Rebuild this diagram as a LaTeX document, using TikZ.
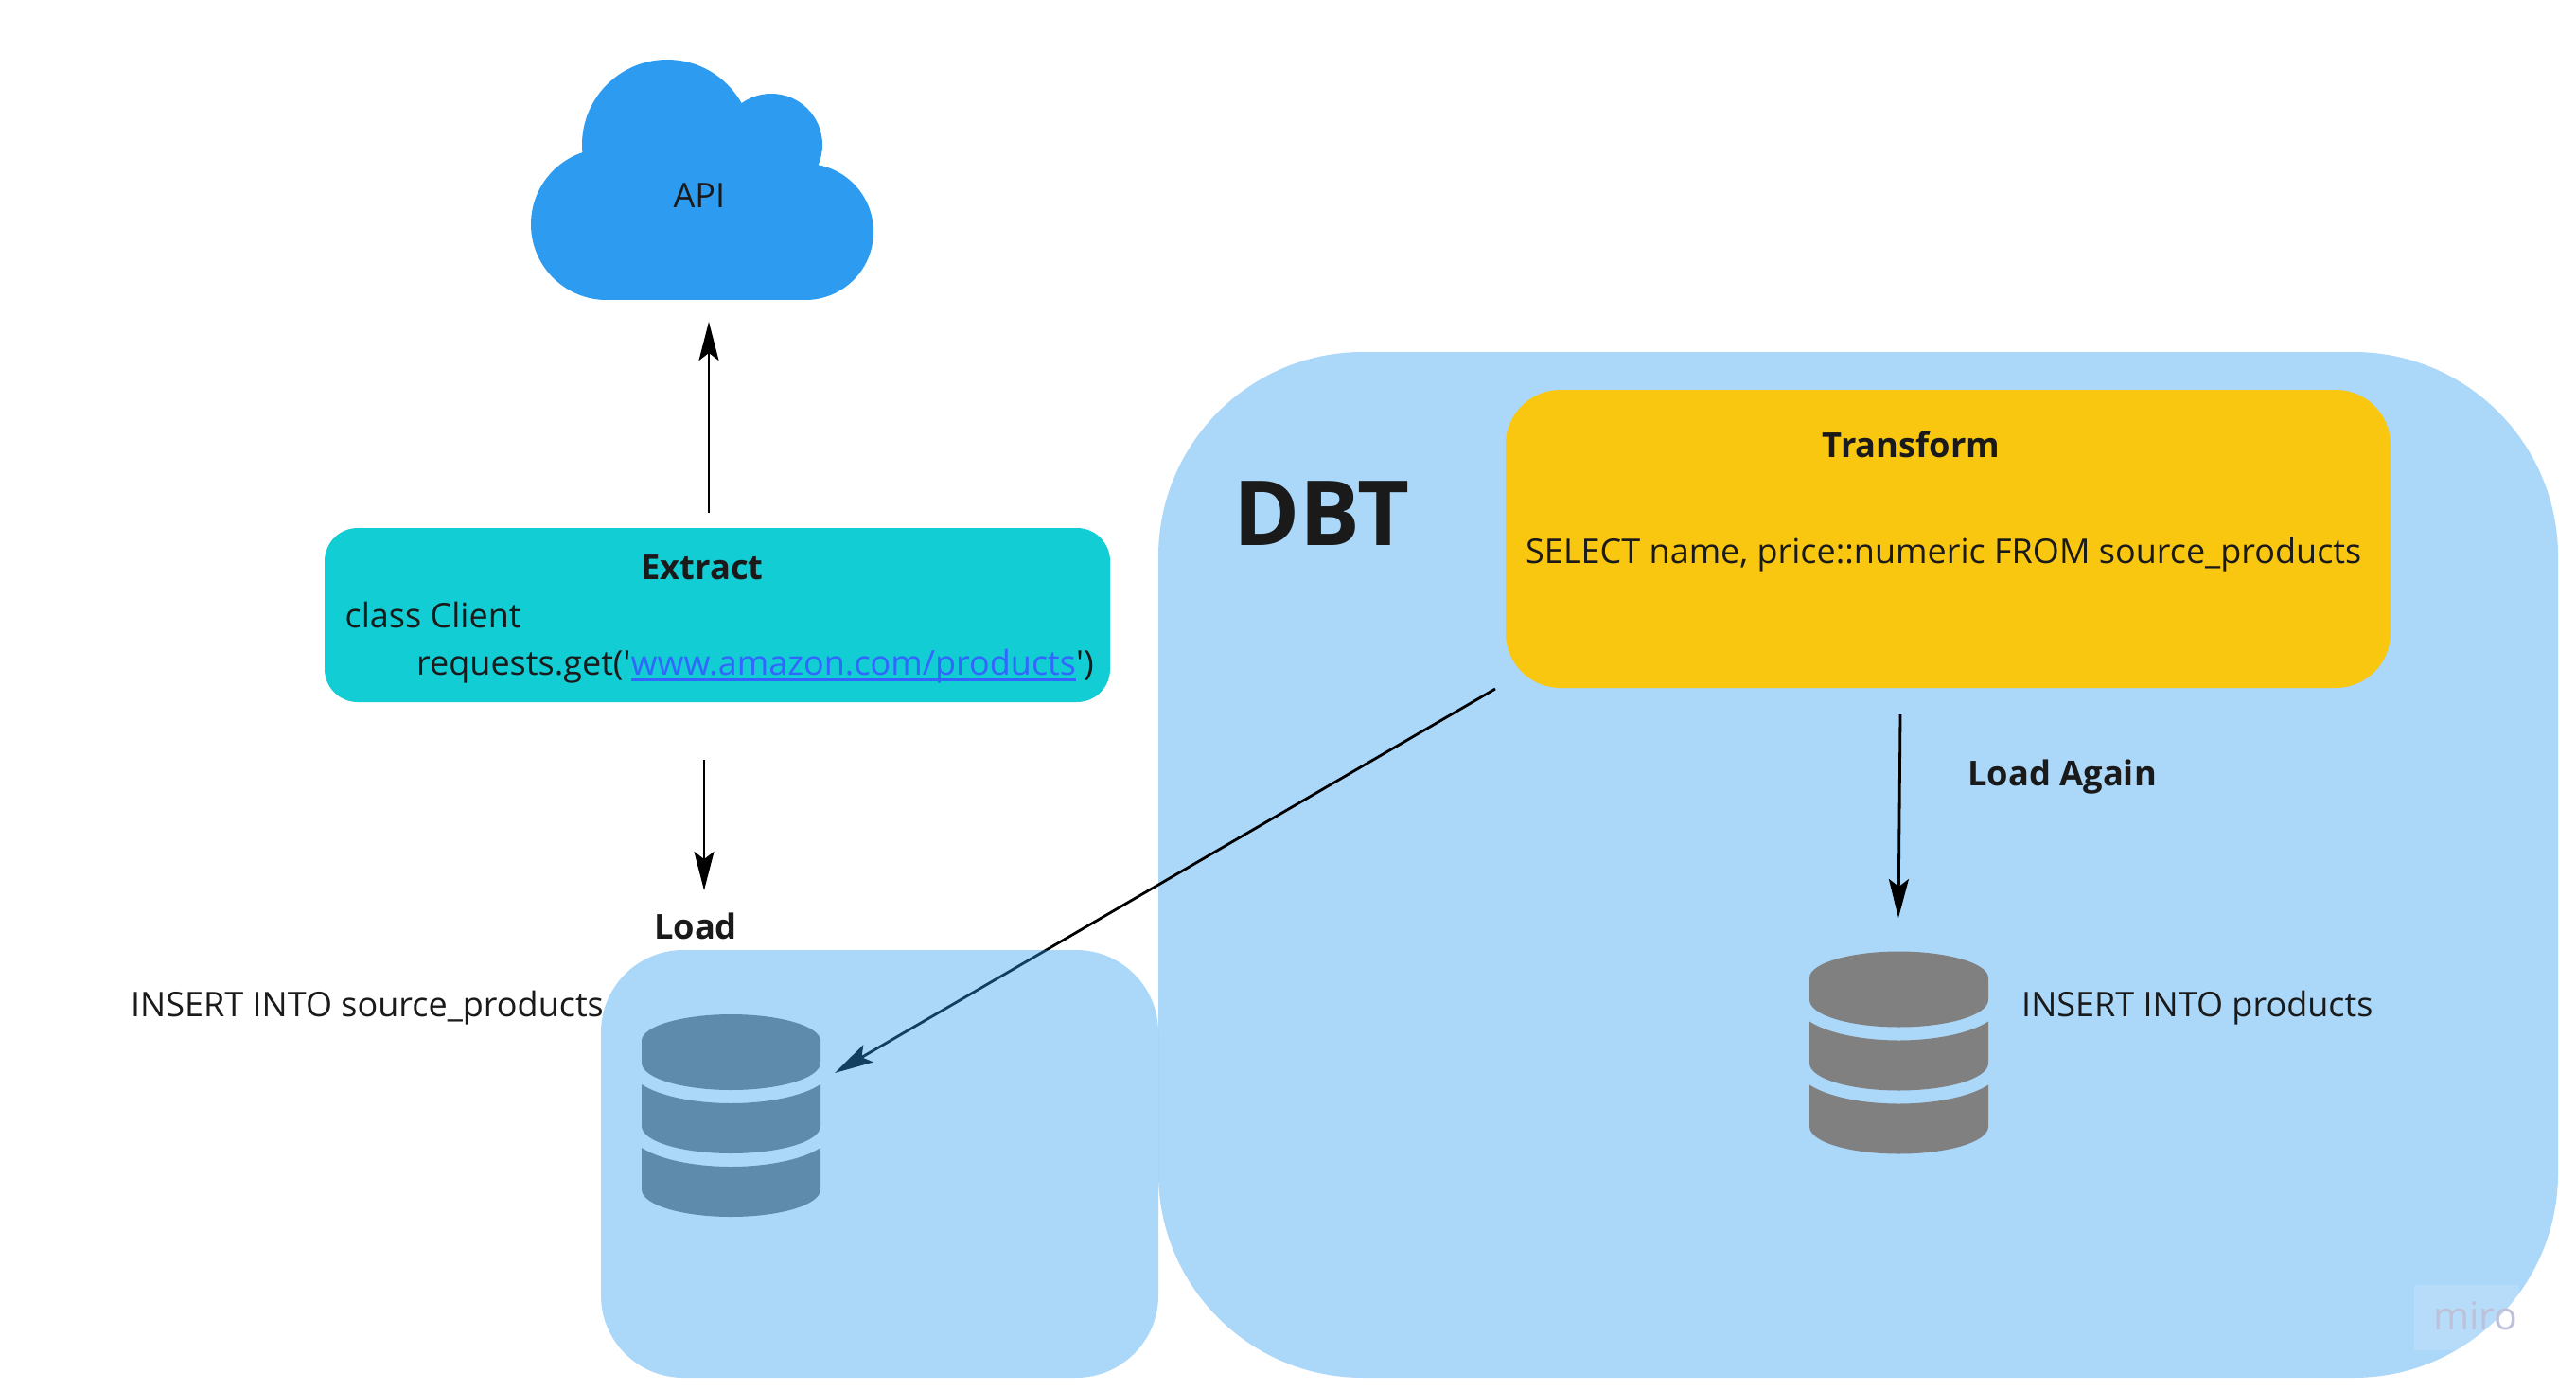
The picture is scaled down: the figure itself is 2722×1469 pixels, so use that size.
\documentclass[tikz,border=0pt]{standalone}
\usepackage{fontspec}
\usetikzlibrary{arrows.meta}
\newfontfamily\opensans{Open Sans}
\definecolor{cloudblue}{HTML}{2D9BF0}
\definecolor{panelblue}{HTML}{ABD7F9}
\definecolor{extractteal}{HTML}{12CDD4}
\definecolor{transformyellow}{HTML}{FAC710}
\definecolor{dbgray}{HTML}{808080}
\definecolor{inkblack}{HTML}{1A1A1A}
\definecolor{linkblue}{HTML}{3366FF}
\definecolor{miroink}{HTML}{BEC1D8}
\newsavebox{\linkbox}
\newcommand{\linktext}[1]{\sbox{\linkbox}{#1}\rlap{\rule[-6.5pt]{\wd\linkbox}{2.5pt}}\usebox{\linkbox}}
\tikzset{
  label/.style={anchor=base west, inner sep=0pt, text=inkblack,
                font=\opensans\fontsize{36}{43}\selectfont},
  title/.style={anchor=base, inner sep=0pt, text=inkblack,
                font=\opensans\bfseries\fontsize{36.3}{43}\selectfont},
  panel/.style={inner sep=0pt, fill=panelblue},
  flow/.style={draw=black, line width=2.8pt, -{Stealth[length=41pt,width=21pt,inset=8pt]}},
  pics/dbicon/.style={code={
    \fill[dbgray] (0,28) .. controls (0,12) and (45,0) .. (94.5,0)
      .. controls (144,0) and (189,12) .. (189,28) -- (189,51)
      .. controls (189,68) and (144,80) .. (94.5,80)
      .. controls (45,80) and (0,68) .. (0,51) -- cycle;
    \foreach \dy in {0,67} {
      \fill[dbgray, yshift=-\dy pt] (0,74) .. controls (18,86) and (55,94) .. (94.5,94)
        .. controls (134,94) and (171,86) .. (189,74) -- (189,118)
        .. controls (189,135) and (144,147) .. (94.5,147)
        .. controls (45,147) and (0,135) .. (0,118) -- cycle;
    }
  }}
}
\begin{document}
\begin{tikzpicture}[x=1pt,y=-1pt]
  \useasboundingbox (0,0) rectangle (2722,1469);

  % cloud
  \foreach \cx/\cy/\cr in {641/237/80, 851/245/72, 705/153/90, 815/153/54}
    \fill[cloudblue] (\cx,\cy) circle[radius=\cr];
  \fill[cloudblue] (641,160) rectangle (851,317);
  \node[label] (api) at (711.5,219) {API};

  % extract
  \node[draw=none, fill=extractteal, rounded corners=35pt, inner sep=0pt,
        minimum width=830pt, minimum height=184pt] (extract) at (758,650) {};
  \node[title] (extracttitle) at (742,612) {Extract};
  \node[label] (client) at (364.5,663) {class Client};
  \node[label] (requests) at (440,713)
        {requests.get('{\color{linkblue}\linktext{www.amazon.com/products}}')};

  % dbt
  \node[panel, rounded corners=216pt, minimum width=1479pt, minimum height=1084pt]
        (dbt) at (1963.5,914) {};
  \node[title, anchor=base west, font=\opensans\bfseries\fontsize{95}{114}\selectfont]
        (dbttitle) at (1303,576.5) {DBT};

  % transform
  \node[fill=transformyellow, rounded corners=58pt, inner sep=0pt,
        minimum width=935pt, minimum height=315pt] (transform) at (2058.5,569.5) {};
  \node[title] (transformtitle) at (2019.5,483) {Transform};
  \node[label] (select) at (1612,595.5) {SELECT name, price::numeric FROM source\_products};

  % databases
  \pic (sourcedb) at (678,1072) {dbicon};
  \pic (productsdb) at (1912,1005.5) {dbicon};
  \node[label] (insertsource) at (138,1074.5) {INSERT INTO source\_products};
  \node[label] (insertproducts) at (2136,1074) {INSERT INTO products};
  \node[title] (loadtitle) at (735,992) {Load};
  \node[title, anchor=base west] (loadagain) at (2079,830) {Load Again};

  % connectors
  \coordinate (extractout) at ([shift={(-9,-16)}]extract.north);
  \coordinate (cloudin) at (749,340);
  \coordinate (extractdown) at ([shift={(-14,61)}]extract.south);
  \coordinate (loadin) at (744,941);
  \coordinate (transformleft) at (1580,728);
  \coordinate (sourcein) at (882,1134);
  \coordinate (transformdown) at (2008,755);
  \coordinate (productsin) at (2006,970);
  \draw[flow] (extractout) -- (cloudin);
  \draw[flow] (extractdown) -- (loadin);
  \draw[flow] (transformleft) -- (sourcein);
  \draw[flow] (transformdown) -- (productsin);

  % load panel goes over the db and the arrow
  \node[fill=cloudblue, fill opacity=0.4, inner sep=0pt, rounded corners=87pt,
        minimum width=589pt, minimum height=452pt] (load) at (929.5,1230) {};

  % miro badge
  \node[fill=white, fill opacity=0.15, inner sep=0pt,
        minimum width=111pt, minimum height=69pt] (badge) at (2606.5,1392.5) {};
  \node[label, text=miroink, font=\opensans\fontsize{41}{49}\selectfont] (miro) at (2571,1405) {miro};
\end{tikzpicture}
\end{document}
